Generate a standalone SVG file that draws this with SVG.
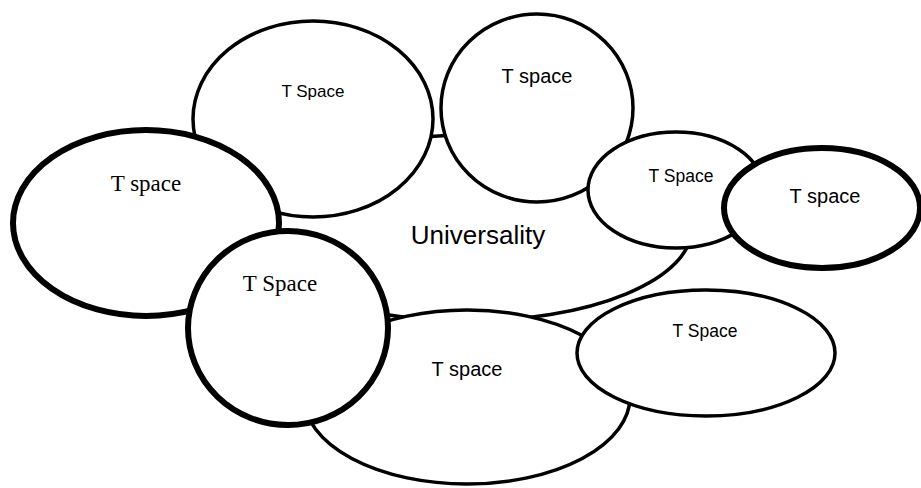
<svg xmlns="http://www.w3.org/2000/svg" width="921" height="488" viewBox="0 0 921 488">
<style>
.n{fill:#fff;stroke:#000;stroke-width:3.5}
.k{fill:#fff;stroke:#000;stroke-width:6}
.s{font-family:"Liberation Sans",Arial,sans-serif;fill:#000;text-anchor:middle}
.t{font-family:"Liberation Serif","Times New Roman",serif;fill:#000;text-anchor:middle;font-size:23px}
</style>
<rect width="921" height="488" fill="#fff"/>
<g id="universality"><ellipse class="n" cx="468" cy="228" rx="224" ry="93"/></g>
<g id="tspace-top-left"><ellipse class="n" cx="313" cy="119" rx="120" ry="98"/><text class="s" x="313" y="97" font-size="17">T Space</text></g>
<g id="tspace-top"><ellipse class="n" cx="537" cy="108" rx="96" ry="94"/><text class="s" x="537" y="83" font-size="20">T space</text></g>
<g id="tspace-left"><ellipse class="k" cx="146" cy="223" rx="133" ry="93"/><text class="t" x="146" y="191">T space</text></g>
<g id="tspace-bottom"><ellipse class="n" cx="467" cy="397" rx="163" ry="87"/><text class="s" x="467" y="376" font-size="20">T space</text></g>
<g id="tspace-lower-left"><ellipse class="k" cx="288" cy="328" rx="100" ry="97"/><text class="t" x="280" y="291">T Space</text></g>
<g id="tspace-lower-right"><ellipse class="n" cx="706" cy="353" rx="129" ry="63"/><text class="s" x="705" y="337" font-size="17.5">T Space</text></g>
<g id="tspace-right-mid"><ellipse class="n" cx="676" cy="190" rx="88" ry="58"/><text class="s" x="681" y="182" font-size="17.5">T Space</text></g>
<g id="tspace-right"><ellipse class="k" cx="822" cy="208" rx="98" ry="60"/><text class="s" x="825" y="203" font-size="20">T space</text></g>
<g id="universality-label"><text class="s" x="478" y="244" font-size="26">Universality</text></g>
</svg>
